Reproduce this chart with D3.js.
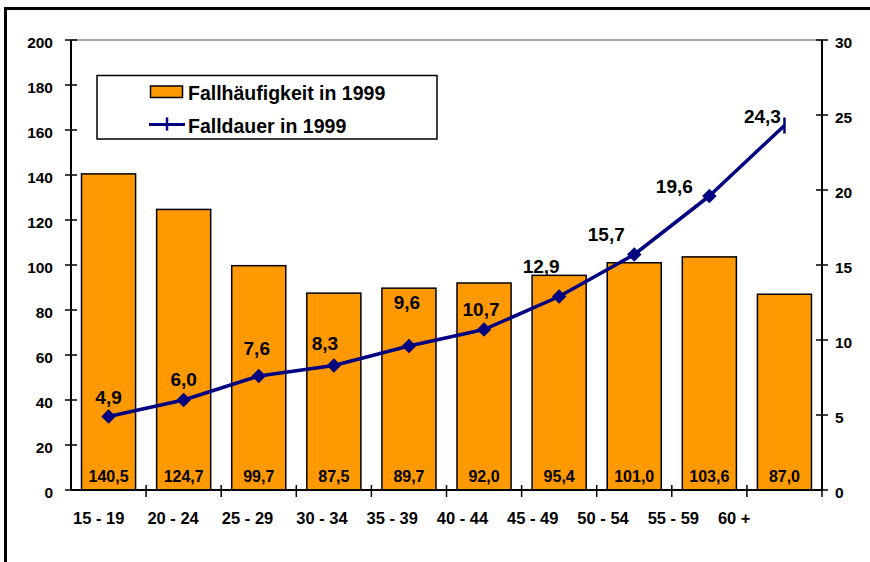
<!DOCTYPE html>
<html>
<head>
<meta charset="utf-8">
<script src="https://cdn.jsdelivr.net/npm/d3@7"></script>
<style>
    body { margin: 0; background: #fff; }
    svg { display: block; font-family: Arial, 'Liberation Sans', sans-serif; font-weight: bold; }
</style>
</head>
<body>
<svg id="chart" width="870" height="562"></svg>
<script>
'use strict';

var ageGroups = ['15 - 19', '20 - 24', '25 - 29', '30 - 34', '35 - 39',
    '40 - 44', '45 - 49', '50 - 54', '55 - 59', '60 +'];
var fallhaeufigkeit = [140.5, 124.7, 99.7, 87.5, 89.7, 92.0, 95.4, 101.0, 103.6, 87.0];
var falldauer = [4.9, 6.0, 7.6, 8.3, 9.6, 10.7, 12.9, 15.7, 19.6, 24.3];
var leftTicks = [0, 20, 40, 60, 80, 100, 120, 140, 160, 180, 200];
var rightTicks = [0, 5, 10, 15, 20, 25, 30];
var legendLabels = ['Fallhäufigkeit in 1999', 'Falldauer in 1999'];

// hand placement of the line value labels, [dx, dy] from the point
var lineLabelNudge = [[0, -19], [0, -21], [-2, -28], [-9, -22], [-2, -44],
    [-3, -20], [-18, -30], [-28, -20], [-35, -10], [-22, -9]];

var orange = '#ff9900',
    navy = '#000080';

var svg = d3.select('#chart');

var plot = {left: 71, right: 822, top: 40, bottom: 490};

var de = d3.formatLocale({decimal: ',', thousands: '.', grouping: [3], currency: ['', '€']});
var fmt = de.format('.1f');

var x = d3.scaleBand()
    .domain(ageGroups)
    .range([plot.left, plot.right]);

var yLeft = d3.scaleLinear().domain([0, 200]).range([plot.bottom, plot.top]);
var yRight = d3.scaleLinear().domain([0, 30]).range([plot.bottom, plot.top]);

var barWidth = x.bandwidth() * 0.72;

function cx(d) { return x(d) + x.bandwidth() / 2; }

// frame (only top and left edges fall inside the picture)
svg.append('path')
    .attr('d', 'M5.5,562V8.5H870')
    .attr('fill', 'none')
    .attr('stroke', '#000')
    .attr('stroke-width', 3);

// top edge of the plot area
svg.append('line')
    .attr('x1', plot.left).attr('x2', plot.right)
    .attr('y1', plot.top).attr('y2', plot.top)
    .attr('stroke', '#888')
    .attr('stroke-width', 1.5);

// bars
svg.append('g').attr('class', 'bars')
    .selectAll('rect')
    .data(ageGroups)
    .enter().append('rect')
        .attr('x', function(d) { return cx(d) - barWidth / 2; })
        .attr('width', barWidth)
        .attr('y', function(d, i) { return yLeft(fallhaeufigkeit[i]); })
        .attr('height', function(d, i) { return yLeft(0) - yLeft(fallhaeufigkeit[i]); })
        .attr('fill', orange)
        .attr('stroke', '#000')
        .attr('stroke-width', 1.5);

svg.append('g').attr('class', 'bar-labels')
    .selectAll('text')
    .data(ageGroups)
    .enter().append('text')
        .attr('x', cx)
        .attr('y', yLeft(0) - 8)
        .attr('text-anchor', 'middle')
        .attr('font-size', 16)
        .text(function(d, i) { return fmt(fallhaeufigkeit[i]); });

// axes
function drawAxis(g, ticks, scale, axisX, side) {
    g.append('line')
        .attr('x1', axisX).attr('x2', axisX)
        .attr('y1', plot.top).attr('y2', plot.bottom)
        .attr('stroke', '#000').attr('stroke-width', 2);

    g.selectAll('line.tick')
        .data(ticks)
        .enter().append('line')
            .attr('class', 'tick')
            .attr('x1', axisX - 6).attr('x2', axisX + 6)
            .attr('y1', scale).attr('y2', scale)
            .attr('stroke', '#000').attr('stroke-width', 1.5);

    g.selectAll('text')
        .data(ticks)
        .enter().append('text')
            .attr('x', side === 'left' ? axisX - 18 : axisX + 13)
            .attr('y', function(d) { return scale(d) + 8; })
            .attr('text-anchor', side === 'left' ? 'end' : 'start')
            .attr('font-size', 15.5)
            .text(function(d) { return d; });
}

drawAxis(svg.append('g'), leftTicks, yLeft, plot.left, 'left');
drawAxis(svg.append('g'), rightTicks, yRight, plot.right, 'right');

var gx = svg.append('g').attr('class', 'x-axis');

gx.append('line')
    .attr('x1', plot.left).attr('x2', plot.right)
    .attr('y1', plot.bottom).attr('y2', plot.bottom)
    .attr('stroke', '#000').attr('stroke-width', 2);

gx.selectAll('line.tick')
    .data(ageGroups.slice(1).concat([null]))
    .enter().append('line')
        .attr('class', 'tick')
        .attr('x1', function(d) { return d === null ? plot.right : x(d); })
        .attr('x2', function(d) { return d === null ? plot.right : x(d); })
        .attr('y1', plot.bottom - 5).attr('y2', plot.bottom + 7)
        .attr('stroke', '#000').attr('stroke-width', 1.5);

// the category labels drift left across the axis in the original
var xLabelShift = d3.scaleLinear().domain([0, 3, 9]).range([2, 0, -29]);

gx.selectAll('text')
    .data(ageGroups)
    .enter().append('text')
        .attr('x', function(d, i) { return x(d) + xLabelShift(i); })
        .attr('y', 524)
        .attr('font-size', 16.5)
        .text(function(d) { return d; });

// line series
var linePoints = ageGroups.map(function(d, i) {
    return {x: cx(d), y: yRight(falldauer[i]), v: falldauer[i], i: i};
});

svg.append('path')
    .datum(linePoints)
    .attr('d', d3.line().x(function(d) { return d.x; }).y(function(d) { return d.y; }))
    .attr('fill', 'none')
    .attr('stroke', navy)
    .attr('stroke-width', 3.5)
    .attr('stroke-linejoin', 'round');

var diamond = d3.symbol().type(d3.symbolSquare).size(105);

svg.append('g').attr('class', 'markers')
    .selectAll('path')
    .data(linePoints.slice(0, -1))
    .enter().append('path')
        .attr('d', diamond)
        .attr('transform', function(d) { return 'translate(' + d.x + ',' + d.y + ') rotate(45)'; })
        .attr('fill', navy);

var last = linePoints[linePoints.length - 1];
svg.append('line')
    .attr('x1', last.x).attr('x2', last.x)
    .attr('y1', last.y - 8).attr('y2', last.y + 8)
    .attr('stroke', navy)
    .attr('stroke-width', 2.5);

svg.append('g').attr('class', 'line-labels')
    .selectAll('text')
    .data(linePoints)
    .enter().append('text')
        .attr('x', function(d) { return d.x + lineLabelNudge[d.i][0]; })
        .attr('y', function(d) { return d.y + lineLabelNudge[d.i][1]; })
        .attr('dy', '0.35em')
        .attr('text-anchor', 'middle')
        .attr('font-size', 19)
        .text(function(d) { return fmt(d.v); });

// legend
var legend = svg.append('g').attr('class', 'legend');

legend.append('rect')
    .attr('x', 97).attr('y', 75.5)
    .attr('width', 340).attr('height', 63.5)
    .attr('fill', '#fff')
    .attr('stroke', '#000')
    .attr('stroke-width', 1.5);

legend.append('rect')
    .attr('x', 150.5).attr('y', 86)
    .attr('width', 32).attr('height', 11.5)
    .attr('fill', orange)
    .attr('stroke', '#000')
    .attr('stroke-width', 1.5);

legend.append('line')
    .attr('x1', 149).attr('x2', 185)
    .attr('y1', 124.5).attr('y2', 124.5)
    .attr('stroke', navy).attr('stroke-width', 3);

legend.append('line')
    .attr('x1', 167).attr('x2', 167)
    .attr('y1', 117.5).attr('y2', 130.5)
    .attr('stroke', navy).attr('stroke-width', 2.5);

legend.selectAll('text')
    .data(legendLabels)
    .enter().append('text')
        .attr('x', 188)
        .attr('y', function(d, i) { return i === 0 ? 100 : 133; })
        .attr('font-size', 19.5)
        .text(function(d) { return d; });
</script>
</body>
</html>
